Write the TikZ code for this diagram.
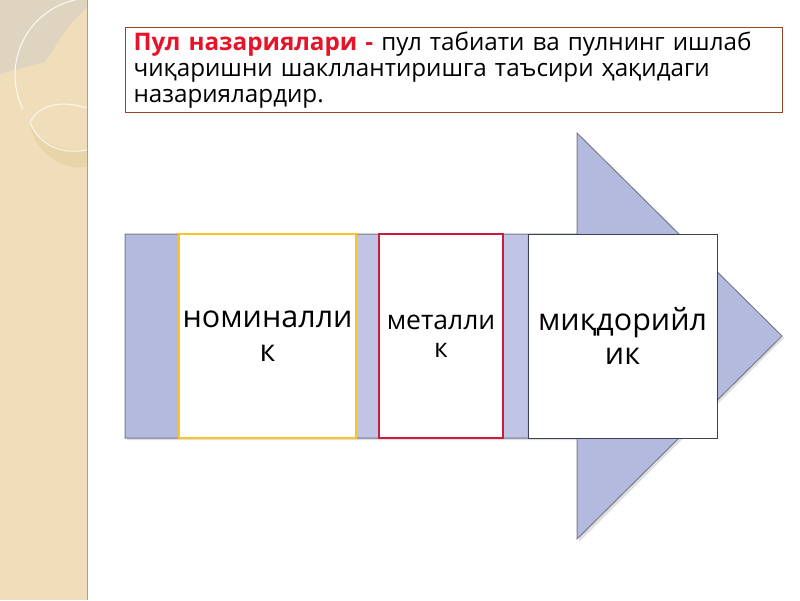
\documentclass[tikz,border=0pt]{standalone}
\usepackage{fontspec}
\setmainfont{Open Sans}
\definecolor{stripbg}{RGB}{239,222,185}
\definecolor{stripgray}{RGB}{222,212,192}
\definecolor{stripdark}{RGB}{231,212,168}
\definecolor{stripline}{RGB}{170,160,140}
\definecolor{titleline}{RGB}{150,70,40}
\definecolor{titlered}{RGB}{230,20,40}
\definecolor{arrowfill}{RGB}{180,186,222}
\definecolor{arrowlight}{RGB}{192,197,230}
\definecolor{arrowline}{RGB}{120,125,140}
\definecolor{goldline}{RGB}{250,195,40}
\definecolor{redline}{RGB}{200,30,60}
\definecolor{slateline}{RGB}{60,65,80}
\tikzset{
  stepbox/.style={draw, fill=white, line width=1.2pt, inner sep=0pt, align=center},
  bigtext/.style={font=\fontsize{30.5}{34}\selectfont},
  smalltext/.style={font=\fontsize{26.5}{28}\selectfont}
}
\begin{document}
\begin{tikzpicture}[x=1pt,y=-1pt]
\useasboundingbox (0,0) rectangle (800,600);
\fill[white] (0,0) rectangle (800,600);

% left strip
\begin{scope}
\clip (0,0) rectangle (87,600);
\fill[stripbg] (0,0) rectangle (87,600);
\fill[stripgray] (0,0) -- (87,0) -- (87,8) .. controls (62,28) and (55,50) .. (45,62) -- (15,70) -- (0,74) -- cycle;
\fill[stripdark] (30,124) .. controls (36,158) and (70,172) .. (87,166) -- (87,150) .. controls (60,152) and (38,142) .. cycle;
\draw[white!85!stripbg, line width=1pt] (92,75) ++(154:77) arc (154:263:77);
\draw[white!80!stripbg, line width=1pt] (30,122) .. controls (40,104) and (62,100) .. (87,108);
\draw[white!80!stripbg, line width=1pt] (30,122) .. controls (38,145) and (62,155) .. (87,150);
\end{scope}
\draw[stripline, line width=1.5pt] (87.5,0) -- (87.5,600);

% title
\node[draw=titleline, line width=1.2pt, fill=white, anchor=north west,
      minimum width=657pt, minimum height=85pt, inner xsep=8pt, inner ysep=3.5pt,
      text width=641pt, align=left, font=\fontsize{24.2}{26}\selectfont] (title) at (125,27)
  {\textcolor{titlered}{\bfseries Пул назариялари -} пул табиати ва пулнинг ишлаб\\
   чиқаришни шакллантиришга таъсири ҳақидаги\\
   назариялардир.};

% arrow
\fill[gray!25] (127,236) -- (579,236) -- (579,135) -- (784,338) -- (579,542) -- (579,440) -- (127,440) -- cycle;
\draw[arrowline, fill=arrowfill, line width=1pt] (125,234) -- (577,234) -- (577,133) -- (782,336)
  -- (577,539) -- (577,438) -- (125,438) -- cycle;
\fill[arrowlight] (357,235) rectangle (378,437);
\fill[arrowlight] (504,235) rectangle (527,437);

% boxes
\node[stepbox, draw=goldline, minimum width=177pt, minimum height=204pt, bigtext] (nominal) at (267.5,336) {номиналли\\к};
\node[stepbox, draw=redline, minimum width=124pt, minimum height=204pt, smalltext] (metal) at (441,336) {металли\\к};
\node[stepbox, draw=slateline, line width=1pt, minimum width=189pt, minimum height=204pt, bigtext] (miqdor) at (622.5,336) {миқдорийл\\ик};
\end{tikzpicture}
\end{document}
